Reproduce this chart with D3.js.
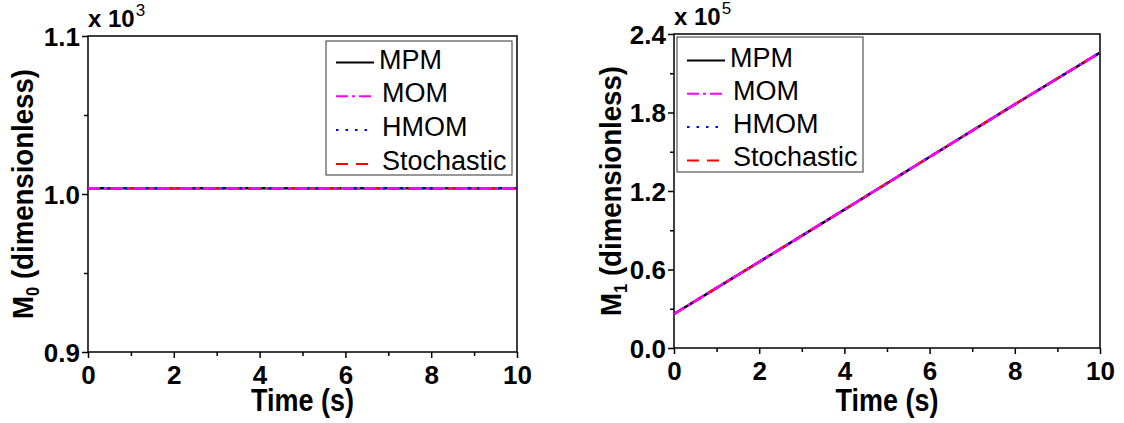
<!DOCTYPE html>
<html>
<head>
<meta charset="utf-8">
<script src="https://cdn.jsdelivr.net/npm/d3@7"></script>
<style>
  body { margin: 0; background: white; }
  text { font-family: "Liberation Sans", Arial, sans-serif; }
</style>
</head>
<body>
<div id="plot"></div>
<script>
// time samples and moments (all four methods sit on top of each other)
const time = [0, 2, 4, 6, 8, 10];
const m0 = [1.0036, 1.0036, 1.0036, 1.0036, 1.0036, 1.0036];   // x 10^3
const m1 = [0.26, 0.658, 1.058, 1.460, 1.862, 2.258];            // x 10^5
const methods = ["MPM", "MOM", "HMOM", "Stochastic"];
const colors = ["#000000", "#ff00ff", "#0000ff", "#ff0000"];
const dashes = [null, "12,4,3,4", "2.5,7", "12,8"];
const xTicks = [0, 2, 4, 6, 8, 10];
const m0Ticks = [0.9, 1.0, 1.1];
const m1Ticks = [0.0, 0.6, 1.2, 1.8, 2.4];

const w = 1124;
const h = 423;

const svg = d3.select("div#plot")
      .append("svg")
      .attr("width", w)
      .attr("height", h);

svg.append("rect")
      .attr("width", w)
      .attr("height", h)
      .attr("fill", "white");

function drawPanel(p) {
  const g = svg.append("g");

  const xScale = d3.scaleLinear().domain([0, 10]).range([p.left, p.right]);
  const yScale = d3.scaleLinear().domain(p.yDomain).range([p.bottom, p.top]);

  // frame
  g.append("rect")
    .attr("x", p.left).attr("y", p.top)
    .attr("width", p.right - p.left).attr("height", p.bottom - p.top)
    .attr("fill", "none").attr("stroke", "#000").attr("stroke-width", 1.5);

  // lines, drawn so the dash-dot ends up on top
  const line = d3.line().x((d, i) => xScale(time[i])).y(d => yScale(d));
  [0, 3, 2, 1].forEach(k => {
    g.append("path")
      .datum(p.values)
      .attr("d", line)
      .attr("fill", "none")
      .attr("stroke", colors[k])
      .attr("stroke-width", 2.5)
      .attr("stroke-dasharray", dashes[k]);
  });

  // x axis
  const xAxis = d3.axisBottom(xScale).tickValues(xTicks).tickSize(6).tickPadding(7)
    .tickFormat(d3.format("d"));
  const gx = g.append("g").attr("transform", `translate(0,${p.bottom})`).call(xAxis);
  g.append("g").attr("transform", `translate(0,${p.bottom})`)
    .call(d3.axisBottom(xScale).tickValues([1, 3, 5, 7, 9]).tickSize(4).tickFormat(""));

  // y axis
  const yAxis = d3.axisLeft(yScale).tickValues(p.yTicks).tickSize(6).tickPadding(2)
    .tickFormat(d3.format(".1f"));
  const gy = g.append("g").attr("transform", `translate(${p.left},0)`).call(yAxis);
  g.append("g").attr("transform", `translate(${p.left},0)`)
    .call(d3.axisLeft(yScale).tickValues(p.yMinor).tickSize(4).tickFormat(""));

  g.selectAll(".domain").remove();
  g.selectAll(".tick line").attr("stroke", "#000").attr("stroke-width", 1.5);
  [gx, gy].forEach(a => a.selectAll("text")
    .attr("font-family", "Liberation Sans, Arial, sans-serif")
    .attr("font-size", 26).attr("font-weight", "bold").attr("fill", "#000"));
  gx.selectAll("text").attr("dy", "0.72em");
  gy.selectAll("text").attr("dy", "0.36em");

  // multiplier label
  const mult = g.append("text")
    .attr("x", p.left).attr("y", p.top - 9)
    .attr("font-size", 24).attr("font-weight", "bold");
  mult.append("tspan").text("x 10");
  mult.append("tspan").attr("font-size", 17).attr("font-weight", "normal")
    .attr("dx", 1).attr("dy", -11).text(p.exponent);

  // axis titles
  g.append("text")
    .attr("transform", `translate(${(p.left + p.right) / 2},411) scale(0.87,1)`)
    .attr("text-anchor", "middle")
    .attr("font-size", 31).attr("font-weight", "bold")
    .text("Time (s)");

  const yt = g.append("text")
    .attr("transform", `translate(${p.titleX},${(p.top + p.bottom) / 2}) rotate(-90) scale(0.92,1)`)
    .attr("text-anchor", "middle")
    .attr("font-size", 30).attr("font-weight", "bold");
  yt.append("tspan").text("M");
  yt.append("tspan").attr("font-size", 18).attr("dy", 6).text(p.sub);
  yt.append("tspan").attr("dy", -6).text(" (dimensionless)");

  // legend
  const lg = g.append("g");
  lg.append("rect")
    .attr("x", p.legend.x).attr("y", p.legend.y)
    .attr("width", p.legend.w).attr("height", p.legend.h)
    .attr("fill", "white").attr("stroke", "#333").attr("stroke-width", 1);
  methods.forEach((m, i) => {
    const base = p.legend.y + p.legend.first + i * p.legend.step;
    lg.append("line")
      .attr("x1", p.legend.x + 10).attr("x2", p.legend.x + 48)
      .attr("y1", base - 6).attr("y2", base - 6)
      .attr("stroke", colors[i]).attr("stroke-width", 2)
      .attr("stroke-dasharray", dashes[i]);
    lg.append("text")
      .attr("x", p.legend.x + (i === 0 ? 53 : 56)).attr("y", base)
      .attr("font-size", 27)
      .text(m);
  });
}

drawPanel({
  left: 88, right: 517, top: 36, bottom: 352,
  yDomain: [0.9, 1.1], yTicks: m0Ticks, yMinor: [0.95, 1.05],
  values: m0, exponent: "3", sub: "0", titleX: 33,
  legend: {x: 326, y: 41, w: 186, h: 134, first: 27.5, step: 33.8}
});

drawPanel({
  left: 674, right: 1100, top: 34, bottom: 348,
  yDomain: [0, 2.4], yTicks: m1Ticks, yMinor: [0.3, 0.9, 1.5, 2.1],
  values: m1, exponent: "5", sub: "1", titleX: 621,
  legend: {x: 677, y: 37, w: 186, h: 135, first: 29.5, step: 33.3}
});
</script>
</body>
</html>
